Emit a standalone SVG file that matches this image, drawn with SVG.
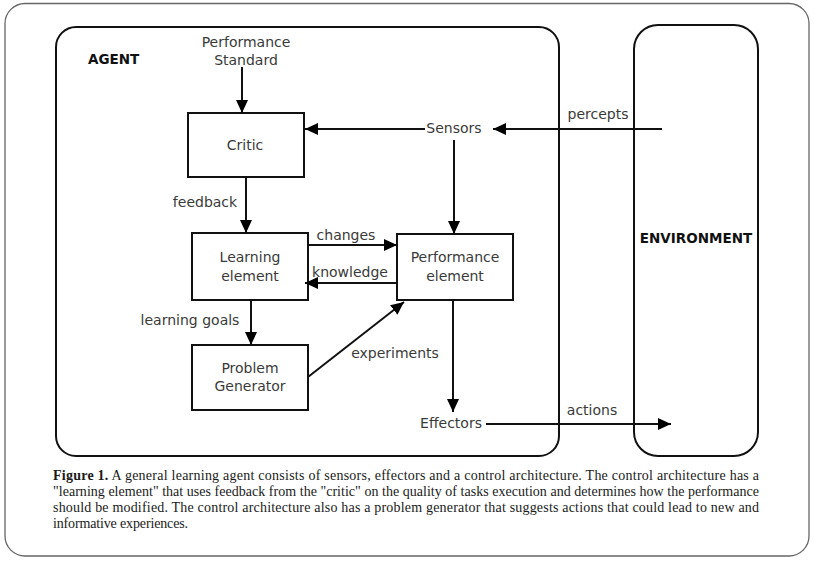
<svg xmlns="http://www.w3.org/2000/svg" width="819" height="561" viewBox="0 0 819 561">
<defs>
<marker id="ah" markerUnits="userSpaceOnUse" markerWidth="14" markerHeight="12" refX="13" refY="6" orient="auto">
<path d="M0,0 L13,6 L0,12 Z" fill="#000"/>
</marker>
<style>
.lbl{font-family:"DejaVu Sans",Verdana,sans-serif;font-size:14px;fill:#3a3a3a;text-anchor:middle}
.bold{font-family:"DejaVu Sans",Verdana,sans-serif;font-size:13.5px;font-weight:bold;fill:#111}
.box{fill:#fff;stroke:#111;stroke-width:2}
.edge{fill:none;stroke:#111;stroke-width:2}
.arr{fill:none;stroke:#111;stroke-width:2;marker-end:url(#ah)}
.cap{font-family:"Liberation Serif","Times New Roman",serif;font-size:14px;fill:#1a1a1a}
</style>
</defs>
<rect x="5" y="3.5" width="804" height="552.5" rx="20" fill="#fff" stroke="#666" stroke-width="1.3"/>

<g id="agent">
<rect x="56" y="27" width="503" height="429" rx="20" fill="none" stroke="#111" stroke-width="2"/>
<text class="bold" x="88" y="64">AGENT</text>
</g>
<g id="environment">
<rect x="634" y="25" width="124" height="431" rx="24" fill="none" stroke="#111" stroke-width="2"/>
<text class="bold" x="696" y="243" text-anchor="middle">ENVIRONMENT</text>
</g>

<g id="performance-standard">
<text class="lbl" x="246" y="47">Performance</text>
<text class="lbl" x="246" y="65">Standard</text>
</g>
<g id="critic">
<rect class="box" x="188" y="113" width="116" height="64"/>
<text class="lbl" x="245" y="150">Critic</text>
</g>
<g id="sensors">
<text class="lbl" x="454" y="133">Sensors</text>
</g>
<g id="learning-element">
<rect class="box" x="192" y="233" width="116" height="67"/>
<text class="lbl" x="250" y="262">Learning</text>
<text class="lbl" x="250" y="281">element</text>
</g>
<g id="performance-element">
<rect class="box" x="397" y="234" width="116" height="66"/>
<text class="lbl" x="455" y="262">Performance</text>
<text class="lbl" x="455" y="281">element</text>
</g>
<g id="problem-generator">
<rect class="box" x="192" y="345" width="116" height="65"/>
<text class="lbl" x="250" y="373">Problem</text>
<text class="lbl" x="250" y="391">Generator</text>
</g>
<g id="effectors">
<text class="lbl" x="451" y="428">Effectors</text>
</g>

<g id="connectors">
<line class="arr" x1="242" y1="67" x2="242" y2="113"/>
<line class="arr" x1="425" y1="129" x2="305" y2="129"/>
<line class="arr" x1="662" y1="129" x2="493" y2="129"/>
<line class="arr" x1="454" y1="140" x2="454" y2="234"/>
<line class="arr" x1="246" y1="177" x2="246" y2="233"/>
<line class="arr" x1="308" y1="245" x2="397" y2="245"/>
<line class="arr" x1="397" y1="283" x2="305" y2="283"/>
<line class="arr" x1="251" y1="300" x2="251" y2="345"/>
<line class="arr" x1="308" y1="377" x2="404" y2="302"/>
<line class="arr" x1="453" y1="300" x2="453" y2="412"/>
<line class="arr" x1="486" y1="424" x2="671" y2="424"/>
<text class="lbl" x="598" y="119">percepts</text>
<text class="lbl" x="205" y="207">feedback</text>
<text class="lbl" x="346" y="240">changes</text>
<text class="lbl" x="350" y="277">knowledge</text>
<text class="lbl" x="190" y="325">learning goals</text>
<text class="lbl" x="395" y="358">experiments</text>
<text class="lbl" x="592" y="415">actions</text>
</g>

<g id="caption">
<text class="cap" x="53" y="480" textLength="706" lengthAdjust="spacing"><tspan font-weight="bold">Figure 1.</tspan> A general learning agent consists of sensors, effectors and a control architecture. The control architecture has a</text>
<text class="cap" x="53" y="496" textLength="706" lengthAdjust="spacing">"learning element" that uses feedback from the "critic" on the quality of tasks execution and determines how the performance</text>
<text class="cap" x="53" y="512" textLength="706" lengthAdjust="spacing">should be modified. The control architecture also has a problem generator that suggests actions that could lead to new and</text>
<text class="cap" x="53" y="528" textLength="135" lengthAdjust="spacing">informative experiences.</text>
</g>
</svg>
